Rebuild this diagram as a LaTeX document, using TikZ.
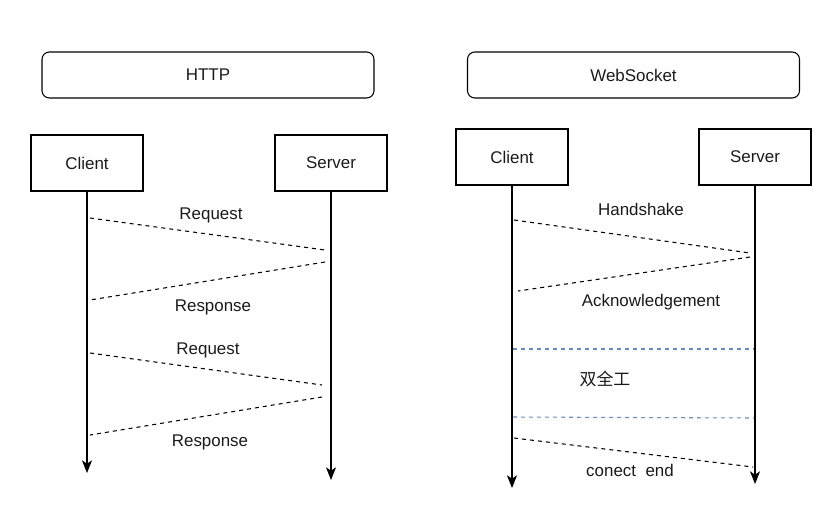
\documentclass[tikz,border=0pt]{standalone}
\usepackage{fontspec}
\setmainfont{Liberation Sans}
\newfontfamily\cjk{Noto Sans CJK SC}
\usetikzlibrary{arrows.meta}
\definecolor{txt}{HTML}{1A1A1A}
\definecolor{bluedash}{HTML}{6C8EBF}
\begin{document}
\begin{tikzpicture}[x=0.75pt,y=-0.75pt,
  font=\fontsize{12.7pt}{15pt}\selectfont,
  titlebox/.style={draw,rounded corners=5.5pt,line width=0.8pt,minimum width=249pt,minimum height=34.5pt,inner sep=0pt,text=txt},
  actor/.style={draw,line width=0.8pt,minimum width=84pt,minimum height=42pt,inner sep=0pt,text=txt},
  lifeline/.style={line width=0.8pt,-{Stealth[length=9.5pt,width=7.5pt,inset=2.5pt]}},
  msg/.style={line width=0.8pt,dash pattern=on 3pt off 3pt},
  sep/.style={line width=0.8pt,bluedash,dash pattern=on 3pt off 3pt},
  lbl/.style={text=txt,inner sep=0pt}]
\useasboundingbox (0,0) rectangle (837,525);
% HTTP side
\node[titlebox] (http) at (208,75) {HTTP};
\node[actor] (hc) at (87,163) {Client};
\node[actor] (hs) at (331,163) {Server};
\coordinate (hcEnd) at (87,473);
\coordinate (hsEnd) at (331,480);
\draw[lifeline] (hc.south) -- (hcEnd);
\draw[lifeline] (hs.south) -- (hsEnd);
\coordinate (h1a) at (90,218);  \coordinate (h1b) at (325,250);
\coordinate (h2a) at (325,262); \coordinate (h2b) at (90,300);
\coordinate (h3a) at (90,353);  \coordinate (h3b) at (322,385);
\coordinate (h4a) at (322,397); \coordinate (h4b) at (90,435);
\draw[msg] (h1a) -- (h1b);
\draw[msg] (h2a) -- (h2b);
\draw[msg] (h3a) -- (h3b);
\draw[msg] (h4a) -- (h4b);
\node[lbl] (lreq1) at (211,215) {Request};
\node[lbl] (lres1) at (213,307) {Response};
\node[lbl] (lreq2) at (208,350) {Request};
\node[lbl] (lres2) at (210,442) {Response};
% WebSocket side
\node[titlebox] (ws) at (633.5,75) {WebSocket};
\node[actor] (wc) at (512,157) {Client};
\node[actor] (wsv) at (755,157) {Server};
\coordinate (wcEnd) at (512,488);
\coordinate (wsEnd) at (755,484);
\draw[lifeline] (wc.south) -- (wcEnd);
\draw[lifeline] (wsv.south) -- (wsEnd);
\coordinate (w1a) at (514,220); \coordinate (w1b) at (750,253);
\coordinate (w2a) at (750,257); \coordinate (w2b) at (518,291);
\coordinate (w3a) at (514,438); \coordinate (w3b) at (753,467);
\coordinate (s1a) at (513,349); \coordinate (s1b) at (754,349);
\coordinate (s2a) at (513,417); \coordinate (s2b) at (754,418);
\draw[msg] (w1a) -- (w1b);
\draw[msg] (w2a) -- (w2b);
\draw[msg] (w3a) -- (w3b);
\draw[sep] (s1a) -- (s1b);
\draw[sep] (s2a) -- (s2b);
\node[lbl] (lhs) at (641,209) {Handshake};
\node[lbl] (lack) at (651,302) {Acknowledgement};
\node[lbl,font=\cjk\fontsize{12.7pt}{15pt}\selectfont] (lfd) at (605,379) {双全工};
\node[lbl] (lend) at (630,470) {conect\ \ end};
\end{tikzpicture}
\end{document}
